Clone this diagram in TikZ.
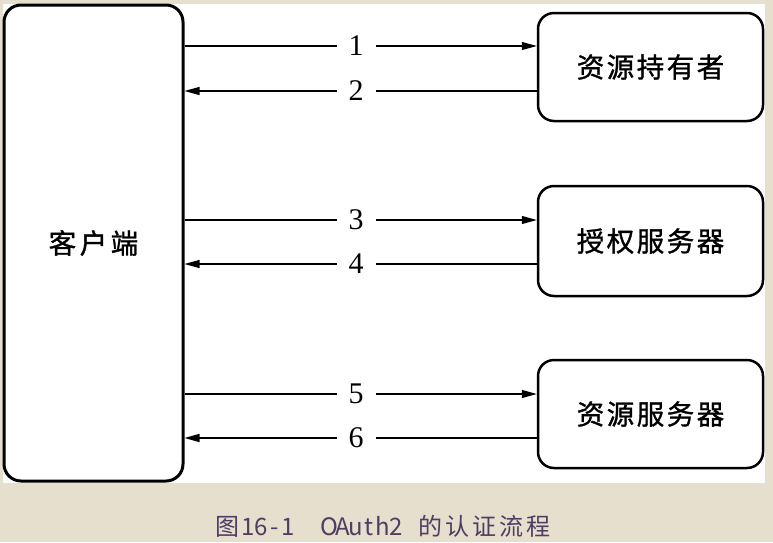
\documentclass[tikz,border=0pt]{standalone}
\usepackage{fontspec}
\setmainfont{Liberation Serif}
\newfontfamily\cjk{Noto Sans CJK SC}
\newfontfamily\cjkb[FakeBold=1.2]{Noto Sans CJK SC}
\usetikzlibrary{arrows.meta}
\definecolor{bgbeige}{RGB}{229,223,205}
\definecolor{captioncol}{RGB}{78,62,98}
\newcommand\bc[1]{\makebox[30pt]{#1}}
\newcommand\fw[1]{\makebox[27pt]{#1}}
\newcommand\hw[1]{\makebox[13.5pt]{#1}}
\begin{document}
\begin{tikzpicture}[x=1pt,y=-1pt,
  box/.style={draw, rounded corners=16pt, line width=2.5pt, fill=white, inner sep=0pt,
    font=\cjkb\fontsize{27.5}{27.5}\selectfont},
  msg/.style={line width=1.1pt, -{Triangle[length=15pt,width=8pt]}},
  lab/.style={fill=white, font=\fontsize{30}{30}\selectfont, inner xsep=12pt, inner ysep=1pt}]
\fill[bgbeige] (0,0) rectangle (773,542);
\fill[white] (3,4) rectangle (765,483);
\useasboundingbox (0,0) rectangle (773,542);
\node[box, line width=3pt, rounded corners=17pt, minimum width=179pt, minimum height=476pt] (client) at (93.5,243) {\makebox[31pt]{客}\makebox[31pt]{户}\makebox[31pt]{端}};
\node[box, minimum width=225pt, minimum height=108pt] (owner) at (650.5,67) {\bc{资}\bc{源}\bc{持}\bc{有}\bc{者}};
\node[box, minimum width=225pt, minimum height=110pt] (auth) at (650.5,241) {\bc{授}\bc{权}\bc{服}\bc{务}\bc{器}};
\node[box, minimum width=225pt, minimum height=108pt] (res) at (650.5,414) {\bc{资}\bc{源}\bc{服}\bc{务}\bc{器}};
\coordinate (y1) at (0,46);
\coordinate (y2) at (0,91);
\coordinate (y3) at (0,220);
\coordinate (y4) at (0,264);
\coordinate (y5) at (0,394);
\coordinate (y6) at (0,438);
\draw[msg] (client.east |- y1) -- node[lab,pos=0.487]{1} (owner.west |- y1);
\draw[msg] (owner.west |- y2) -- node[lab,pos=0.513]{2} (client.east |- y2);
\draw[msg] (client.east |- y3) -- node[lab,pos=0.487]{3} (auth.west |- y3);
\draw[msg] (auth.west |- y4) -- node[lab,pos=0.513]{4} (client.east |- y4);
\draw[msg] (client.east |- y5) -- node[lab,pos=0.487]{5} (res.west |- y5);
\draw[msg, line width=1.6pt] (res.west |- y6) -- node[lab,pos=0.513]{6} (client.east |- y6);
\node[anchor=west, inner sep=0pt, text=captioncol, font=\cjk\fontsize{24}{24}\selectfont] (cap) at (214,526)
  {\fw{图}\hw{1}\hw{6}\hw{-}\hw{1}\hw{}\hw{}\hw{O}\hw{A}\hw{u}\hw{t}\hw{h}\hw{2}\hw{}\fw{的}\fw{认}\fw{证}\fw{流}\fw{程}};
\end{tikzpicture}
\end{document}
